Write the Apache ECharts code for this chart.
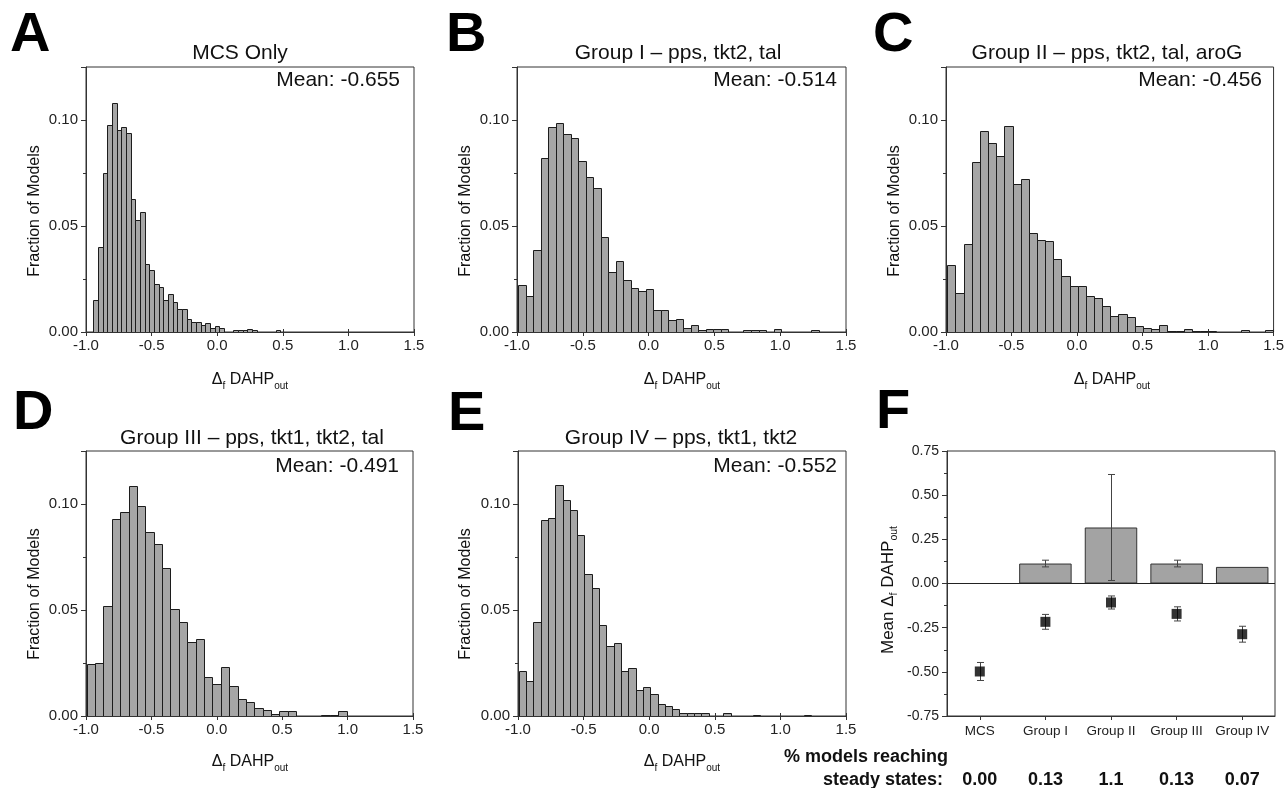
<!DOCTYPE html>
<html><head><meta charset="utf-8">
<script src="https://cdn.jsdelivr.net/npm/echarts@6/dist/echarts.min.js"></script>
<style>html,body{margin:0;padding:0;background:#fff}#c{width:1287px;height:788px}</style>
</head><body><div id="c"></div>
<script>
// ---------- data ----------
const xTicks = [-1.0, -0.5, 0.0, 0.5, 1.0, 1.5];
const yTicksHist = [0.00, 0.05, 0.10];
const yMaxHist = 0.125;
const panelLetters = ['A', 'B', 'C', 'D', 'E', 'F'];
const histTitles = ['MCS Only', 'Group I \u2013 pps, tkt2, tal', 'Group II \u2013 pps, tkt2, tal, aroG',
  'Group III \u2013 pps, tkt1, tkt2, tal', 'Group IV \u2013 pps, tkt1, tkt2'];
const histMeans = ['Mean: -0.655', 'Mean: -0.514', 'Mean: -0.456', 'Mean: -0.491', 'Mean: -0.552'];

const binStartA = -0.944, binWidthA = 0.0356;
const fracA = [0.0153, 0.040, 0.0748, 0.0975, 0.108, 0.0953, 0.0965, 0.094, 0.0627, 0.053, 0.0565, 0.032, 0.0291,
  0.0227, 0.0213, 0.015, 0.0181, 0.014, 0.0107, 0.0107, 0.006, 0.0049, 0.0049, 0.0035, 0.0041, 0.002, 0.0027, 0.002,
  0, 0, 0.0008, 0.0008, 0.0008, 0.0014, 0.0008, 0, 0, 0, 0, 0.0008];

const binStartB = -0.992, binWidthB = 0.0571;
const fracB = [0.022, 0.0168, 0.0389, 0.0819, 0.0965, 0.0987, 0.0934, 0.0913, 0.0806, 0.0732, 0.0677, 0.0449, 0.0283,
  0.0335, 0.0247, 0.0208, 0.0194, 0.0202, 0.0106, 0.0106, 0.0055, 0.006, 0.002, 0.0035, 0.0008, 0.0013, 0.0013, 0.0013,
  0, 0, 0.0008, 0.0008, 0.0008, 0, 0.0014, 0, 0, 0, 0, 0.0008];

const binStartC = -0.99, binWidthC = 0.0622;
const fracC = [0.0317, 0.0184, 0.0416, 0.080, 0.0948, 0.0893, 0.0828, 0.097, 0.0696, 0.0724, 0.0469, 0.0436, 0.0428,
  0.0342, 0.0263, 0.0217, 0.0217, 0.0168, 0.0162, 0.0124, 0.0077, 0.0083, 0.0071, 0.0028, 0.002, 0.0013, 0.0035, 0.0006,
  0.0006, 0.0013, 0.0006, 0.0006, 0.0006, 0, 0, 0, 0.0008, 0, 0, 0.0008];

const binStartD = -0.995, binWidthD = 0.0641;
const fracD = [0.0244, 0.025, 0.052, 0.0931, 0.0964, 0.1083, 0.099, 0.0869, 0.081, 0.0699, 0.0504, 0.0444, 0.0348,
  0.0365, 0.0184, 0.015, 0.023, 0.0143, 0.008, 0.0068, 0.0036, 0.003, 0.001, 0.0022, 0.0022, 0, 0, 0, 0.0006, 0.0006, 0.0022];

const binStartE = -0.995, binWidthE = 0.0557;
const fracE = [0.0214, 0.0167, 0.0443, 0.0926, 0.0934, 0.1091, 0.1019, 0.0972, 0.0852, 0.0669, 0.0603, 0.0428, 0.0328,
  0.0342, 0.0214, 0.0228, 0.0121, 0.0135, 0.0106, 0.0055, 0.0047, 0.0033, 0.0013, 0.0013, 0.0013, 0.0013, 0, 0, 0.0013,
  0, 0, 0, 0.0006, 0, 0, 0, 0, 0, 0, 0.0006];

const groups = ['MCS', 'Group I', 'Group II', 'Group III', 'Group IV'];
const yTicksF = [-0.75, -0.50, -0.25, 0.00, 0.25, 0.50, 0.75];
const barMean = [0, 0.113, 0.317, 0.113, 0.094];
const barErr = [0, 0.019, 0.30, 0.019, 0];
const squareMean = [-0.498, -0.217, -0.1075, -0.172, -0.287];
const squareErr = [0.051, 0.042, 0.037, 0.040, 0.045];
const steadyPct = ['0.00', '0.13', '1.1', '0.13', '0.07'];

// ---------- layout ----------
const FONT = '"Liberation Sans", Arial, Helvetica, sans-serif';
const grids = [
  { left: 86, top: 67, width: 328, height: 265 },
  { left: 517, top: 67, width: 329, height: 265 },
  { left: 946, top: 67, width: 329, height: 265 },
  { left: 86, top: 451, width: 327, height: 265 },
  { left: 518, top: 451, width: 328, height: 265 },
  { left: 947, top: 451, width: 328, height: 265 }
];
const hists = [
  [binStartA, binWidthA, fracA], [binStartB, binWidthB, fracB], [binStartC, binWidthC, fracC],
  [binStartD, binWidthD, fracD], [binStartE, binWidthE, fracE]
];
const titlePos = [[240, 53], [678, 53], [1107, 53], [252, 438], [681, 438]];
const meanPos = [[400, 80], [837, 80], [1262, 80], [399, 466], [837, 466]];
const xTitlePos = [[250, 380], [682, 380], [1112, 380], [250, 762], [682, 762]];
const yTitlePos = [[35, 211], [466, 211], [895, 211], [35, 594], [466, 594]];
const letterPos = [[10, 36], [446, 36], [873, 36], [13, 414], [448, 415], [876, 413]];

function binsFrom(start, width, fr) {
  return fr.map((h, i) => [start + i * width, start + (i + 1) * width, h]);
}
function histRender(params, api) {
  const h = api.value(2);
  if (!(h > 0)) return { type: 'group', children: [] };
  const p0 = api.coord([api.value(0), 0]);
  const p1 = api.coord([api.value(1), h]);
  return {
    type: 'rect',
    shape: { x: Math.round(p0[0]) + 0.5, y: Math.round(p1[1]) + 0.5, width: Math.round(p1[0]) - Math.round(p0[0]), height: Math.round(p0[1]) - Math.round(p1[1]) },
    style: { fill: '#a6a6a6', stroke: '#1c1c1c', lineWidth: 1 }
  };
}
function errRender(params, api) {
  const i = api.value(0), lo = api.value(1), hi = api.value(2);
  if (!(hi > lo)) return { type: 'group', children: [] };
  const a = api.coord([i, lo]), b = api.coord([i, hi]);
  const x = Math.round(a[0]) + 0.5, cw = 3.5;
  const st = { stroke: '#444', lineWidth: 1 };
  return {
    type: 'group', children: [
      { type: 'line', shape: { x1: x, y1: a[1], x2: x, y2: b[1] }, style: st },
      { type: 'line', shape: { x1: x - cw, y1: a[1], x2: x + cw, y2: a[1] }, style: st },
      { type: 'line', shape: { x1: x - cw, y1: b[1], x2: x + cw, y2: b[1] }, style: st }
    ]
  };
}

const axisLineStyle = { color: '#333', width: 1 };
const xAxes = [], yAxes = [], series = [];
for (let k = 0; k < 5; k++) {
  xAxes.push({
    type: 'value', gridIndex: k, min: xTicks[0], max: xTicks[xTicks.length - 1], interval: xTicks[1] - xTicks[0],
    axisLine: { show: true, onZero: false, lineStyle: axisLineStyle },
    axisTick: { show: true, length: 4, lineStyle: axisLineStyle },
    axisLabel: { fontSize: 15, fontFamily: FONT, color: '#222', margin: 6, formatter: v => v.toFixed(1) },
    splitLine: { show: false }
  });
  yAxes.push({
    type: 'value', gridIndex: k, min: 0, max: yMaxHist, interval: yTicksHist[1] - yTicksHist[0],
    axisLine: { show: true, onZero: false, lineStyle: axisLineStyle },
    axisTick: { show: true, length: 5, lineStyle: axisLineStyle },
    minorTick: { show: true, splitNumber: 2, length: 3, lineStyle: axisLineStyle },
    axisLabel: { fontSize: 15, fontFamily: FONT, color: '#222', margin: 8, showMaxLabel: false, formatter: v => v.toFixed(2) },
    splitLine: { show: false }
  });
  series.push({
    type: 'custom', xAxisIndex: k, yAxisIndex: k, renderItem: histRender, clip: true,
    encode: { x: [0, 1], y: 2 }, data: binsFrom(hists[k][0], hists[k][1], hists[k][2]), silent: true
  });
}
// panel F
xAxes.push({
  type: 'category', gridIndex: 5, data: groups, boundaryGap: true,
  axisLine: { show: true, onZero: false, lineStyle: axisLineStyle },
  axisTick: { show: true, alignWithLabel: true, length: 4, lineStyle: axisLineStyle },
  axisLabel: { fontSize: 13.5, fontFamily: FONT, color: '#222', margin: 8, interval: 0 },
  splitLine: { show: false }
});
yAxes.push({
  type: 'value', gridIndex: 5, min: yTicksF[0], max: yTicksF[yTicksF.length - 1], interval: yTicksF[1] - yTicksF[0],
  axisLine: { show: true, onZero: false, lineStyle: axisLineStyle },
  axisTick: { show: true, length: 5, lineStyle: axisLineStyle },
  minorTick: { show: true, splitNumber: 2, length: 3, lineStyle: axisLineStyle },
  axisLabel: { fontSize: 14, fontFamily: FONT, color: '#222', margin: 8, formatter: v => v.toFixed(2) },
  splitLine: { show: false }
});
// inward half of the crossing x ticks on the histograms
for (let k = 0; k < 5; k++) {
  xAxes.push({
    type: 'value', gridIndex: k, position: 'bottom', min: xTicks[0], max: xTicks[xTicks.length - 1], interval: xTicks[1] - xTicks[0],
    axisLine: { show: false, onZero: false },
    axisTick: { show: true, inside: true, length: 3, lineStyle: axisLineStyle },
    axisLabel: { show: false }, splitLine: { show: false }
  });
}
series.push({
  type: 'bar', xAxisIndex: 5, yAxisIndex: 5, data: barMean, barWidth: '80%', silent: true,
  itemStyle: { color: '#a3a3a3', borderColor: '#333', borderWidth: 1 },
  markLine: { silent: true, symbol: 'none', label: { show: false }, lineStyle: { color: '#222', width: 1, type: 'solid' }, data: [{ yAxis: 0 }] }
});
series.push({
  type: 'custom', xAxisIndex: 5, yAxisIndex: 5, renderItem: errRender, silent: true, z: 3,
  encode: { x: 0, y: [1, 2] },
  data: barMean.map((m, i) => [i, m - barErr[i], m + barErr[i]])
});
series.push({
  type: 'custom', xAxisIndex: 5, yAxisIndex: 5, renderItem: errRender, silent: true, z: 3,
  encode: { x: 0, y: [1, 2] },
  data: squareMean.map((m, i) => [i, m - squareErr[i], m + squareErr[i]])
});
series.push({
  type: 'scatter', xAxisIndex: 5, yAxisIndex: 5, data: squareMean, symbol: 'rect', symbolSize: 10, silent: true, z: 4,
  itemStyle: { color: '#000' }
});

// ---------- texts ----------
const elements = [];
function txt(x, y, text, font, align, extra) {
  elements.push(Object.assign({
    type: 'text', x: x, y: y, silent: true,
    style: { text: text, font: font, fill: '#111', textAlign: align, textVerticalAlign: 'middle', align: align, verticalAlign: 'middle' }
  }, extra || {}));
}
panelLetters.forEach((L, i) => txt(letterPos[i][0], letterPos[i][1], L, 'bold 56px ' + FONT, 'left', null));
elements.forEach(e => e.style.fill = '#000');
for (let k = 0; k < 5; k++) {
  txt(titlePos[k][0], titlePos[k][1], histTitles[k], '21px ' + FONT, 'center');
  txt(meanPos[k][0], meanPos[k][1], histMeans[k], '21px ' + FONT, 'right');
  elements.push({
    type: 'text', x: xTitlePos[k][0], y: xTitlePos[k][1], silent: true,
    style: {
      text: '{m|\u0394}{s|f}{m| DAHP}{s|out}', textAlign: 'center', textVerticalAlign: 'middle', align: 'center', verticalAlign: 'middle',
      rich: {
        m: { fontSize: 16, fontFamily: FONT, fill: '#111', lineHeight: 22, verticalAlign: 'middle' },
        s: { fontSize: 10, fontFamily: FONT, fill: '#111', verticalAlign: 'bottom' }
      }
    }
  });
  elements.push({
    type: 'text', x: yTitlePos[k][0], y: yTitlePos[k][1], rotation: Math.PI / 2, silent: true,
    style: { text: 'Fraction of Models', font: '16px ' + FONT, fill: '#111', textAlign: 'center', textVerticalAlign: 'middle', align: 'center', verticalAlign: 'middle' }
  });
}
elements.push({
  type: 'text', x: 888, y: 590, rotation: Math.PI / 2, silent: true,
  style: {
    text: '{m|Mean \u0394}{s|f}{m| DAHP}{s|out}', textAlign: 'center', textVerticalAlign: 'middle', align: 'center', verticalAlign: 'middle',
    rich: {
      m: { fontSize: 17, fontFamily: FONT, fill: '#111', lineHeight: 23, verticalAlign: 'middle' },
      s: { fontSize: 10.5, fontFamily: FONT, fill: '#111', verticalAlign: 'bottom' }
    }
  }
});
txt(866, 757, '% models reaching', 'bold 18px ' + FONT, 'center');
txt(943, 780, 'steady states:', 'bold 18px ' + FONT, 'right');

const chart = echarts.init(document.getElementById('c'), null, { renderer: 'canvas' });
const gridF = grids[5];
const catCenters = groups.map((g, i) => gridF.left + gridF.width * (i + 0.5) / groups.length);
steadyPct.forEach((p, i) => txt(catCenters[i], 780, p, 'bold 18px ' + FONT, 'center'));

chart.setOption({
  backgroundColor: '#ffffff',
  animation: false,
  grid: grids.map(g => Object.assign({ show: true, borderColor: '#333', borderWidth: 1, backgroundColor: 'transparent' }, g)),
  xAxis: xAxes,
  yAxis: yAxes,
  series: series,
  graphic: { elements: elements }
});
</script></body></html>
